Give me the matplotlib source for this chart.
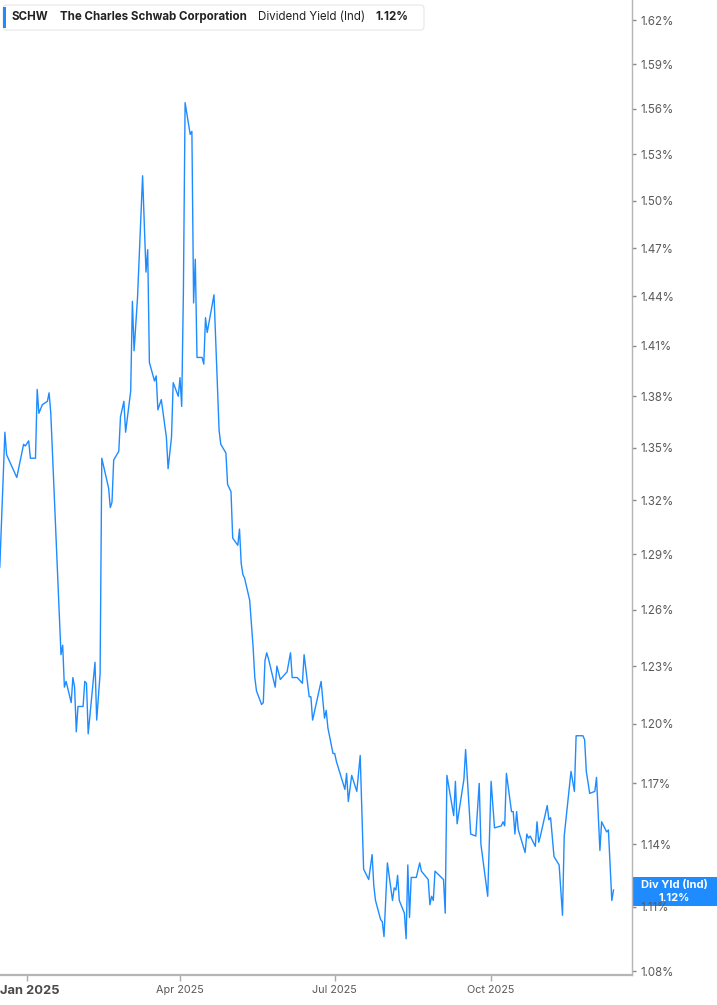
import matplotlib
matplotlib.use('Agg')
import matplotlib.pyplot as plt
import matplotlib.dates as mdates
from matplotlib.patches import FancyBboxPatch, Rectangle
from matplotlib.ticker import FixedLocator, FuncFormatter, NullLocator
import pandas as pd

plt.rcParams['font.family'] = ['Inter', 'DejaVu Sans']

ticker_sym = 'SCHW'
company = 'The Charles Schwab Corporation'
metric = 'Dividend Yield (Ind)'
short_metric = 'Div Yld (Ind)'
last_label = '1.12%'

# daily dividend yield (%)
dates = [
    '2024-12-16', '2024-12-19', '2024-12-20', '2024-12-26', '2024-12-30', '2024-12-31',
    '2025-01-02', '2025-01-03', '2025-01-06', '2025-01-07', '2025-01-08', '2025-01-10',
    '2025-01-13', '2025-01-14', '2025-01-15', '2025-01-21', '2025-01-22', '2025-01-23',
    '2025-01-24', '2025-01-27', '2025-01-28', '2025-01-29', '2025-01-30', '2025-01-31',
    '2025-02-03', '2025-02-04', '2025-02-05', '2025-02-06', '2025-02-10', '2025-02-11',
    '2025-02-13', '2025-02-14', '2025-02-18', '2025-02-19', '2025-02-20', '2025-02-21',
    '2025-02-24', '2025-02-25', '2025-02-27', '2025-02-28', '2025-03-03', '2025-03-04',
    '2025-03-05', '2025-03-07', '2025-03-10', '2025-03-12', '2025-03-13', '2025-03-14',
    '2025-03-17', '2025-03-18', '2025-03-19', '2025-03-21', '2025-03-24', '2025-03-25',
    '2025-03-27', '2025-03-28', '2025-03-31', '2025-04-01', '2025-04-02', '2025-04-03',
    '2025-04-04', '2025-04-07', '2025-04-08', '2025-04-09', '2025-04-10', '2025-04-11',
    '2025-04-14', '2025-04-15', '2025-04-16', '2025-04-17', '2025-04-21', '2025-04-24',
    '2025-04-25', '2025-04-28', '2025-04-29', '2025-05-01', '2025-05-02', '2025-05-05',
    '2025-05-06', '2025-05-07', '2025-05-08', '2025-05-09', '2025-05-12', '2025-05-14',
    '2025-05-15', '2025-05-16', '2025-05-19', '2025-05-20', '2025-05-21', '2025-05-22',
    '2025-05-23', '2025-05-27', '2025-05-28', '2025-05-30', '2025-06-03', '2025-06-05',
    '2025-06-06', '2025-06-09', '2025-06-12', '2025-06-13', '2025-06-16', '2025-06-17',
    '2025-06-18', '2025-06-23', '2025-06-25', '2025-06-26', '2025-06-27', '2025-06-30',
    '2025-07-01', '2025-07-02', '2025-07-07', '2025-07-08', '2025-07-09', '2025-07-11',
    '2025-07-14', '2025-07-16', '2025-07-18', '2025-07-21', '2025-07-23', '2025-07-24',
    '2025-07-25', '2025-07-28', '2025-07-29', '2025-07-30', '2025-08-01', '2025-08-04',
    '2025-08-05', '2025-08-06', '2025-08-07', '2025-08-08', '2025-08-11', '2025-08-12',
    '2025-08-13', '2025-08-14', '2025-08-15', '2025-08-18', '2025-08-20', '2025-08-21',
    '2025-08-25', '2025-08-26', '2025-08-27', '2025-08-28', '2025-08-29', '2025-09-03',
    '2025-09-04', '2025-09-05', '2025-09-09', '2025-09-10', '2025-09-11', '2025-09-15',
    '2025-09-16', '2025-09-19', '2025-09-22', '2025-09-24', '2025-09-25', '2025-09-29',
    '2025-10-01', '2025-10-03', '2025-10-07', '2025-10-08', '2025-10-09', '2025-10-10',
    '2025-10-13', '2025-10-14', '2025-10-15', '2025-10-16', '2025-10-17', '2025-10-21',
    '2025-10-22', '2025-10-23', '2025-10-24', '2025-10-27', '2025-10-28', '2025-10-29',
    '2025-10-30', '2025-11-03', '2025-11-04', '2025-11-05', '2025-11-07', '2025-11-10',
    '2025-11-12', '2025-11-13', '2025-11-17', '2025-11-19', '2025-11-20', '2025-11-24',
    '2025-11-25', '2025-11-26', '2025-11-28', '2025-12-01', '2025-12-02', '2025-12-04',
    '2025-12-05', '2025-12-08', '2025-12-09', '2025-12-11', '2025-12-12',
]
yields = [
    1.283, 1.359, 1.346, 1.333, 1.352, 1.351,
    1.354, 1.344, 1.344, 1.384, 1.370, 1.375,
    1.377, 1.382, 1.370, 1.236, 1.241, 1.219,
    1.222, 1.211, 1.224, 1.219, 1.196, 1.209,
    1.209, 1.222, 1.221, 1.195, 1.232, 1.202,
    1.226, 1.344, 1.327, 1.316, 1.319, 1.343,
    1.348, 1.368, 1.377, 1.359, 1.383, 1.437,
    1.407, 1.439, 1.516, 1.455, 1.469, 1.400,
    1.389, 1.392, 1.372, 1.378, 1.356, 1.338,
    1.356, 1.388, 1.380, 1.391, 1.374, 1.443,
    1.564, 1.543, 1.545, 1.436, 1.463, 1.403,
    1.403, 1.399, 1.427, 1.418, 1.441, 1.360,
    1.352, 1.347, 1.329, 1.325, 1.299, 1.295,
    1.304, 1.285, 1.279, 1.277, 1.265, 1.240,
    1.224, 1.217, 1.210, 1.211, 1.233, 1.237,
    1.234, 1.219, 1.230, 1.223, 1.227, 1.237,
    1.224, 1.224, 1.221, 1.236, 1.214, 1.214,
    1.202, 1.222, 1.203, 1.207, 1.198, 1.185,
    1.185, 1.181, 1.167, 1.175, 1.161, 1.174,
    1.166, 1.184, 1.128, 1.123, 1.135, 1.120,
    1.113, 1.104, 1.103, 1.096, 1.131, 1.113,
    1.119, 1.118, 1.125, 1.113, 1.107, 1.095,
    1.130, 1.105, 1.124, 1.124, 1.131, 1.127,
    1.123, 1.111, 1.115, 1.113, 1.127, 1.123,
    1.107, 1.174, 1.154, 1.171, 1.150, 1.172,
    1.187, 1.145, 1.144, 1.170, 1.140, 1.115,
    1.171, 1.148, 1.149, 1.151, 1.149, 1.175,
    1.156, 1.156, 1.145, 1.156, 1.147, 1.136,
    1.145, 1.143, 1.144, 1.139, 1.151, 1.141,
    1.144, 1.159, 1.152, 1.153, 1.134, 1.130,
    1.106, 1.144, 1.176, 1.166, 1.194, 1.194,
    1.192, 1.176, 1.165, 1.166, 1.173, 1.137,
    1.151, 1.146, 1.147, 1.113, 1.118,
]

y_ticks = [1.08, 1.11, 1.14, 1.17, 1.20, 1.23, 1.26, 1.29, 1.32, 1.35,
           1.38, 1.41, 1.44, 1.47, 1.50, 1.53, 1.56, 1.59, 1.62]
x_ticks = ['2025-01-01', '2025-04-01', '2025-07-01', '2025-10-01']
x_tick_labels = ['Jan 2025', 'Apr 2025', 'Jul 2025', 'Oct 2025']

W, H = 717, 1005
LINE_BLUE = '#1E8CFF'

fig = plt.figure(figsize=(W / 100, H / 100), dpi=100)
fig.patch.set_facecolor('white')
ax = fig.add_axes([0, 1 - 975 / H, 632 / W, 975 / H])

ax.plot(pd.to_datetime(dates), yields, color=LINE_BLUE, lw=1.0, zorder=2)

ax.set_yscale('log')
ax.set_ylim(1.0782, 1.634)
ax.set_xlim(pd.Timestamp('2024-12-16 03:00'), pd.Timestamp('2025-12-22 21:00'))

ax.yaxis.tick_right()
ax.yaxis.set_major_locator(FixedLocator(y_ticks))
ax.yaxis.set_minor_locator(NullLocator())
ax.yaxis.set_major_formatter(FuncFormatter(lambda v, p: f'{v:.2f}%'))

ax.xaxis.set_major_locator(FixedLocator(mdates.date2num(pd.to_datetime(x_ticks))))
ax.xaxis.set_minor_locator(NullLocator())
# the year label sits flush with the left edge, drawn separately below
ax.set_xticklabels([''] + x_tick_labels[1:])

for side in ['top', 'left']:
    ax.spines[side].set_visible(False)
ax.spines['right'].set_color('#b5b5b5')
ax.spines['right'].set_linewidth(1.0)
ax.spines['bottom'].set_color('#b5b5b5')
ax.spines['bottom'].set_linewidth(1.6)

ax.tick_params(axis='y', direction='out', length=3, width=1, color='#8a8a8a',
               labelsize=8.3, labelcolor='#5a5a5a', pad=3)
ax.tick_params(axis='x', direction='out', length=4, width=1, color='#aaaaaa',
               labelsize=7.8, labelcolor='#5a5a5a', pad=3)


def fx(px):
    return px / W


def fy(py):
    return 1 - py / H


fig.text(fx(0.5), fy(991), x_tick_labels[0], fontsize=9.3, fontweight='bold',
         color='#4a4a4a', ha='left', va='center')

# header box top left
header = FancyBboxPatch((fx(3), fy(30)), fx(421), 25 / H,
                        boxstyle='round,pad=0,rounding_size=0.004',
                        transform=fig.transFigure, facecolor='white',
                        edgecolor='#e6e6e6', lw=0.8, zorder=5)
fig.patches.append(header)
fig.patches.append(Rectangle((fx(3), fy(28)), fx(3), 21 / H, transform=fig.transFigure,
                             facecolor=LINE_BLUE, edgecolor='none', zorder=6))
head_y = fy(17)
fig.text(fx(12), head_y, ticker_sym, fontsize=8.3, fontweight='bold', color='#222222',
         va='center', zorder=7)
fig.text(fx(60), head_y, company, fontsize=8.3, fontweight='bold', color='#222222',
         va='center', zorder=7)
fig.text(fx(258), head_y, metric, fontsize=8.3, color='#222222', va='center', zorder=7)
fig.text(fx(375), head_y, last_label, fontsize=8.3, fontweight='bold', color='#222222',
         va='center', zorder=7)

# last value tag on the right axis
fig.patches.append(Rectangle((fx(632), fy(906)), fx(85), 29 / H, transform=fig.transFigure,
                             facecolor='#1E8CFF', edgecolor='none', zorder=-2))
fig.text(fx(674), fy(885), short_metric, fontsize=8, fontweight='bold', color='white',
         ha='center', va='center', zorder=-1)
fig.text(fx(674), fy(898), last_label, fontsize=8, fontweight='bold', color='white',
         ha='center', va='center', zorder=-1)

fig.savefig('out.png', dpi=100, facecolor='white')
